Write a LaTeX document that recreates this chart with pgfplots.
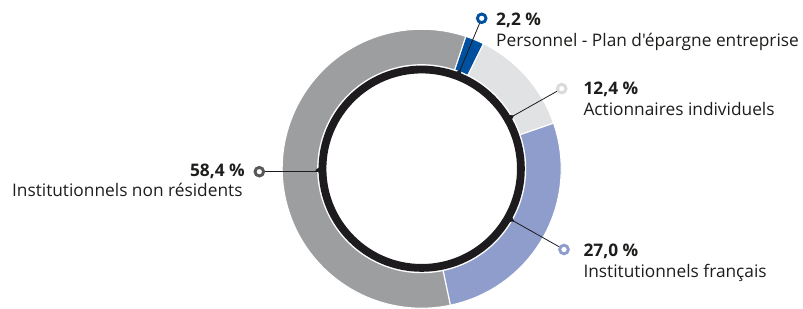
\documentclass[border=0pt]{standalone}
\usepackage{pgfplots}
\usepackage{pgfplotstable}
\pgfplotsset{compat=1.18}
\usepackage{fontspec}
\setmainfont{Open Sans}
\newfontfamily\labelfont{Open Sans}
\definecolor{cBlue}{RGB}{0,80,160}
\definecolor{cLight}{RGB}{225,226,228}
\definecolor{cViolet}{RGB}{142,157,203}
\definecolor{cGray}{RGB}{157,158,160}
\definecolor{cDark}{RGB}{88,88,90}
\definecolor{cLightMk}{RGB}{218,218,220}
\definecolor{cBlack}{RGB}{29,27,30}
\definecolor{cText}{RGB}{29,29,27}

\pgfplotstableread{
share
2.2
12.4
27.0
58.4
}\shares

\pgfplotstablegetelem{0}{share}\of\shares
\pgfmathsetmacro\aA{71.6}
\pgfmathsetmacro\bA{\aA-3.6*\pgfplotsretval}
\pgfplotstablegetelem{1}{share}\of\shares
\pgfmathsetmacro\bB{\bA-3.6*\pgfplotsretval}
\pgfplotstablegetelem{2}{share}\of\shares
\pgfmathsetmacro\bC{\bB-3.6*\pgfplotsretval}
\pgfplotstablegetelem{3}{share}\of\shares
\pgfmathsetmacro\bD{\bC-3.6*\pgfplotsretval}

\newcommand\ringseg[3]{%
  \filldraw[fill=#1, draw=white, line width=1.1pt]
    ([shift={(#2:139.5pt)}]C) arc[start angle=#2, end angle=#3, radius=139.5pt]
    -- ([shift={(#3:104pt)}]C) arc[start angle=#3, end angle=#2, radius=104pt] -- cycle;}
\newcommand\ringwedge[1]{%
  \fill[cBlack] ([shift={(#1+2.2:101pt)}]C) -- ([shift={(#1:106.5pt)}]C) -- ([shift={(#1-2.2:101pt)}]C) -- cycle;}

\begin{document}%
\begin{tikzpicture}
\begin{axis}[
  width=803pt, height=308pt, scale only axis,
  xmin=0, xmax=803, ymin=0, ymax=308, y dir=reverse,
  hide axis, clip=false, enlargelimits=false,
]
\coordinate (BL) at (axis cs:0,308);
\coordinate (TR) at (axis cs:803,0);
\coordinate (C) at (axis cs:421.7,168.7);
\ringseg{cBlue}{\aA}{\bA}
\ringseg{cLight}{\bA}{\bB}
\ringseg{cViolet}{\bB}{\bC}
\ringseg{cGray}{\bC}{\bD}
\draw[cBlack, line width=7.8pt] (C) circle[radius=99.2pt];
\ringwedge{68.8}
\ringwedge{30}
\ringwedge{-29.7}
\ringwedge{180.8}
% leader lines
\addplot[cBlack, line width=0.8pt] coordinates {(481.7,18.3) (459.3,72.0)};
\addplot[cBlack, line width=0.8pt] coordinates {(561.7,88.6) (511.8,116.7)};
\addplot[cBlack, line width=0.8pt] coordinates {(564.0,249.5) (512.0,220.2)};
\addplot[cBlack, line width=0.8pt] coordinates {(259.3,171.7) (317.7,171.7)};
% markers
\addplot[only marks, mark=*, mark size=4.3pt, mark options={draw=cBlue, fill=white, line width=2.9pt}] coordinates {(481.7,18.3)};
\addplot[only marks, mark=*, mark size=4.3pt, mark options={draw=cLightMk, fill=white, line width=2.9pt}] coordinates {(561.7,88.6)};
\addplot[only marks, mark=*, mark size=4.3pt, mark options={draw=cViolet, fill=white, line width=2.9pt}] coordinates {(564.0,249.5)};
\addplot[only marks, mark=*, mark size=4.3pt, mark options={draw=cDark, fill=white, line width=2.9pt}] coordinates {(259.3,171.7)};
% labels
\begin{scope}[every node/.style={inner sep=0pt, text=cText, font=\labelfont\fontsize{17.3}{20}\selectfont}]
\node[anchor=base west] at (axis cs:496,25.5) {\bfseries 2,2 \%};
\node[anchor=base west] at (axis cs:496,46.5) {Personnel - Plan d'épargne entreprise};
\node[anchor=base west] at (axis cs:583.3,94.3) {\bfseries 12,4 \%};
\node[anchor=base west] at (axis cs:583.3,115) {Actionnaires individuels};
\node[anchor=base west] at (axis cs:583.3,256) {\bfseries 27,0 \%};
\node[anchor=base west] at (axis cs:583.3,277.3) {Institutionnels français};
\node[anchor=base east] at (axis cs:245,176) {\bfseries 58,4 \%};
\node[anchor=base east] at (axis cs:242.7,196) {Institutionnels non résidents};
\end{scope}
\end{axis}
\pgfresetboundingbox
\path[use as bounding box] (BL) rectangle (TR);
\end{tikzpicture}%
\end{document}
